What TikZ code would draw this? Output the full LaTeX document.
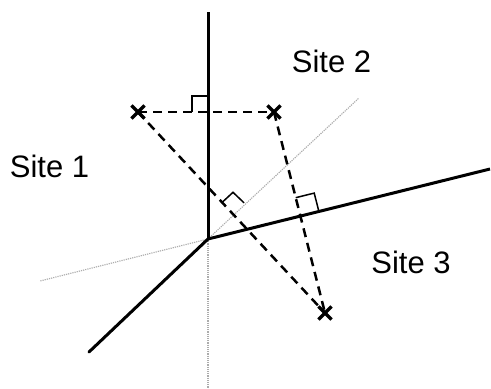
\documentclass[tikz,border=0pt]{standalone}
\usepackage{fontspec}
\setmainfont{Liberation Sans}
\usetikzlibrary{shapes.misc}
\begin{document}
\begin{tikzpicture}[x=1pt,y=-1pt,
  axis/.style={line width=3pt},
  guide/.style={gray!65, line width=1.1pt, dash pattern=on 1.2pt off 1pt},
  bisect/.style={line width=2.5pt, dash pattern=on 9pt off 6pt},
  rmark/.style={line width=1.5pt},
  site/.style={cross out, draw, line width=3.2pt, minimum size=10pt, inner sep=0pt},
  lbl/.style={font=\fontsize{31}{34}\selectfont, anchor=base, inner sep=0pt}]
\useasboundingbox (0,0) rectangle (491,389);
% centre and axes ends
\coordinate (O) at (208,239);
\coordinate (top) at (208,12);
\coordinate (right) at (490,169);
\coordinate (ll) at (89,352);
\coordinate (down) at (208,389);
\coordinate (left) at (40,281);
\coordinate (ur) at (359,98);
% dotted guides
\draw[guide] (O) -- (down);
\draw[guide] (O) -- (left);
\draw[guide] (O) -- (ur);
% solid boundaries
\draw[axis] (O) -- (top);
\draw[axis] (O) -- (right);
\draw[axis, line cap=round] (O) -- (ll);
% sites
\node[site] (s1) at (138,112) {};
\node[site] (s2) at (274,112) {};
\node[site] (s3) at (325,313) {};
% dashed connections
\draw[bisect] (s1.center) -- (s2.center);
\draw[bisect] (s1.center) -- (s3.center);
\draw[bisect] (s2.center) -- (s3.center);
% right-angle marks
\draw[rmark] (208,96) -- (192,96) -- (192,112);
\draw[rmark] (222,202.5) -- (233,192.3) -- (244,202.8);
\draw[rmark] (295.7,197.7) -- (314.2,193.1) -- (318.9,211.5);
% labels
\node[lbl] (l1) at (49.5,177) {Site 1};
\node[lbl] (l2) at (331.5,72) {Site 2};
\node[lbl] (l3) at (411,273) {Site 3};
\end{tikzpicture}
\end{document}
